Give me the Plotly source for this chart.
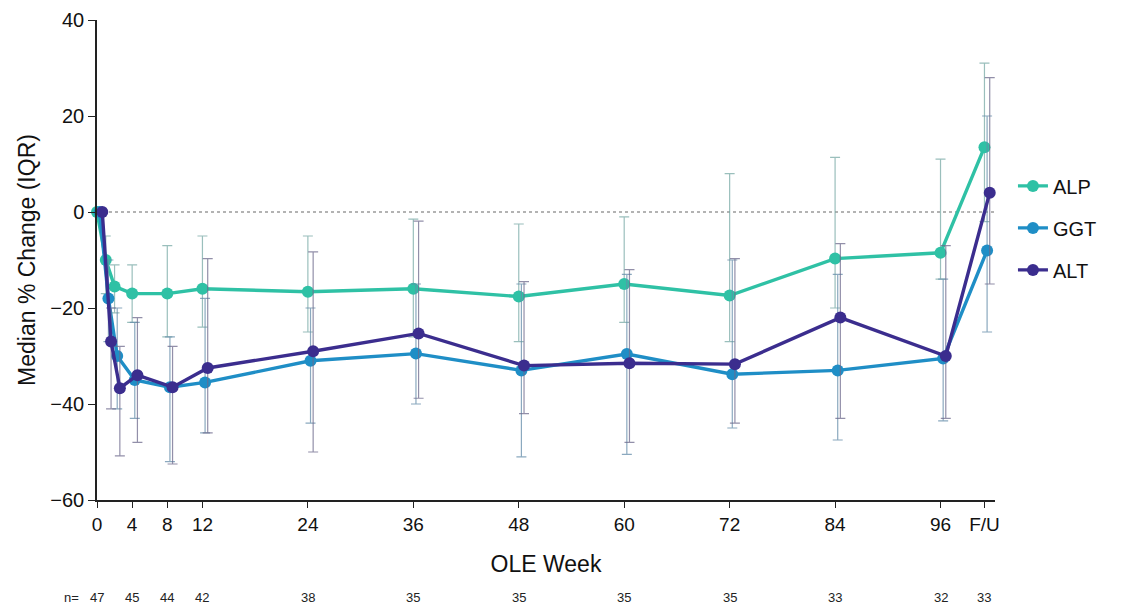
import plotly.graph_objects as go

# ---------------- data ----------------
weeks = [0, 1, 2, 4, 8, 12, 24, 36, 48, 60, 72, 84, 96, 101]
tick_vals = [0, 4, 8, 12, 24, 36, 48, 60, 72, 84, 96, 101]
tick_text = ["0", "4", "8", "12", "24", "36", "48", "60", "72", "84", "96", "F/U"]
n_weeks = [0, 4, 8, 12, 24, 36, 48, 60, 72, 84, 96, 101]
n_values = ["47", "45", "44", "42", "38", "35", "35", "35", "35", "33", "32", "33"]

alp_med = [0, -10, -15.5, -17, -17, -16, -16.6, -16, -17.6, -15, -17.4, -9.7, -8.5, 13.5]
alp_q3 = [0, -5, -11, -11, -7, -5, -5, -1.5, -2.5, -1, 8, 11.4, 11, 31]
alp_q1 = [0, -17, -21, -23, -26, -24, -25, -26, -27, -23, -27, -20, -14, -2]

ggt_med = [0, -18, -30, -35, -36.5, -35.5, -31, -29.5, -33, -29.6, -33.8, -33, -30.5, -8]
ggt_q3 = [0, -10, -20, -23, -26, -18, -20, -15, -15, -13, -10, -13, -14, 20]
ggt_q1 = [0, -27, -41, -43, -52, -46, -44, -40, -51, -50.5, -45, -47.5, -43.5, -25]

alt_med = [0, -27, -36.7, -34, -36.5, -32.5, -29, -25.3, -32, -31.5, -31.7, -22, -30, 4]
alt_q3 = [0, -20, -28, -22, -28, -9.7, -8.3, -1.9, -14.5, -12, -9.7, -6.6, -7, 28]
alt_q1 = [0, -41, -50.8, -48, -52.5, -46, -50, -38.8, -42, -48, -44, -43, -43, -15]

series = [
    ("ALP", alp_med, alp_q1, alp_q3, "#2fc1a5", "rgba(120,170,165,0.75)", 0.0),
    ("GGT", ggt_med, ggt_q1, ggt_q3, "#1f8ec6", "rgba(100,140,170,0.75)", 0.3),
    ("ALT", alt_med, alt_q1, alt_q3, "#3b2d8e", "rgba(110,105,140,0.75)", 0.6),
]

FONT = "Liberation Sans, Arial, sans-serif"

fig = go.Figure()
for i, (name, med, q1, q3, col, ecol, dodge) in enumerate(series):
    xs = [w + dodge for w in weeks]
    fig.add_trace(go.Scatter(
        x=xs, y=med, name=name, mode="lines+markers",
        line=dict(color=col, width=3.4),
        marker=dict(color=col, size=12, symbol="circle"),
        error_y=dict(type="data", symmetric=False,
                     array=[a - m for a, m in zip(q3, med)],
                     arrayminus=[m - b for m, b in zip(med, q1)],
                     color=ecol, thickness=1.2, width=5),
        legendgroup=name, cliponaxis=False,
    ))

# dotted zero line
fig.add_shape(type="line", xref="x", yref="y", x0=0, x1=102.2, y0=0, y1=0,
              line=dict(color="#9a9a9a", width=1.5, dash="dot"), layer="below")

# n= row
fig.add_annotation(x=-0.039, y=-0.223, xref="paper", yref="paper", text="n=",
                   showarrow=False, font=dict(family=FONT, size=13, color="#222"))
for w, n in zip(n_weeks, n_values):
    fig.add_annotation(x=w, y=-0.223, xref="x", yref="paper", text=n,
                       showarrow=False, font=dict(family=FONT, size=13, color="#222"))

fig.update_layout(
    width=1135, height=609,
    margin=dict(l=89, r=148, t=12, b=117),
    plot_bgcolor="white", paper_bgcolor="white",
    font=dict(family=FONT, color="#111"),
    showlegend=True,
    legend=dict(x=1.02, y=0.695, xanchor="left", yanchor="top",
                font=dict(family=FONT, size=20, color="#111"),
                tracegroupgap=13, bgcolor="rgba(0,0,0,0)"),
    xaxis=dict(range=[0, 102.2], tickvals=tick_vals, ticktext=tick_text,
               automargin=False,
               showgrid=False, zeroline=False, showline=True, linecolor="#222",
               linewidth=1.5, ticks="outside", ticklen=6, tickcolor="#222",
               tickfont=dict(family=FONT, size=19, color="#111"),
               title=dict(text="OLE Week", font=dict(family=FONT, size=23, color="#111"),
                          standoff=22)),
    yaxis=dict(range=[-60, 40], tickvals=[-60, -40, -20, 0, 20, 40],
               automargin=False,
               showgrid=False, zeroline=False, showline=True, linecolor="#222",
               linewidth=1.5, ticks="outside", ticklen=7, tickcolor="#222",
               tickfont=dict(family=FONT, size=20, color="#111"),
               title=dict(text="Median % Change (IQR)",
                          font=dict(family=FONT, size=23, color="#111"), standoff=8)),
)

fig.write_html("out.html")
